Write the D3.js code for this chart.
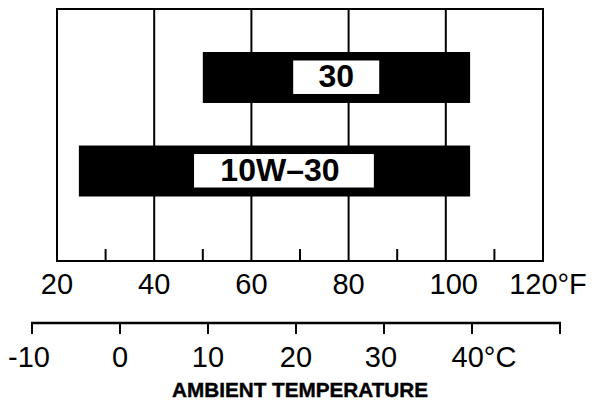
<!DOCTYPE html>
<html>
<head>
<meta charset="utf-8">
<script src="https://cdn.jsdelivr.net/npm/d3@7"></script>
<style>
  html, body { margin: 0; padding: 0; background: #fff; }
  svg { display: block; }
  text { font-family: "Liberation Sans", Arial, Helvetica, sans-serif; fill: #000; }
</style>
</head>
<body>
<svg id="chart" width="594" height="402"></svg>
<script>
// Oil grades and the ambient temperature span (°F) each one covers
const grades = ["30", "10W–30"];
const rangeLowF = [50, 24.5];
const rangeHighF = [105, 105];

// Tick values and labels for the two temperature scales
const fahrenheitMajor = [20, 40, 60, 80, 100, 120];
const fahrenheitLabels = ["20", "40", "60", "80", "100", "120°F"];
const fahrenheitMinor = [30, 50, 70, 90, 110];
const celsiusTicks = [-10, 0, 10, 20, 30, 40, 50];
const celsiusLabels = ["-10", "0", "10", "20", "30", "40°C", ""];
const axisTitle = "AMBIENT TEMPERATURE";

const svg = d3.select("#chart");

const frameTop = 9, frameBottom = 261;
const x = d3.scaleLinear().domain([20, 120]).range([57, 543]);
const y = d3.scaleBand().domain(grades).range([52, 196.5]).paddingInner(0.455);

// Vertical grid lines at the labelled Fahrenheit values inside the frame
svg.append("g")
  .selectAll("line")
  .data(fahrenheitMajor.filter(v => v > 20 && v < 120))
  .join("line")
  .attr("x1", d => x(d)).attr("x2", d => x(d))
  .attr("y1", frameTop).attr("y2", frameBottom)
  .attr("stroke", "#000").attr("stroke-width", 2);

// Short ticks rising from the bottom of the frame
svg.append("g")
  .selectAll("line")
  .data(fahrenheitMinor)
  .join("line")
  .attr("x1", d => x(d)).attr("x2", d => x(d))
  .attr("y1", frameBottom).attr("y2", frameBottom - 12)
  .attr("stroke", "#000").attr("stroke-width", 2);

// Frame
svg.append("rect")
  .attr("x", x(20)).attr("y", frameTop)
  .attr("width", x(120) - x(20)).attr("height", frameBottom - frameTop)
  .attr("fill", "none").attr("stroke", "#000").attr("stroke-width", 2);

// Bars
const bars = grades.map((g, i) => ({ grade: g, lo: rangeLowF[i], hi: rangeHighF[i] }));
svg.append("g")
  .selectAll("rect")
  .data(bars)
  .join("rect")
  .attr("x", d => x(d.lo))
  .attr("y", d => y(d.grade))
  .attr("width", d => x(d.hi) - x(d.lo))
  .attr("height", y.bandwidth())
  .attr("fill", "#000");

// White label plates inside the bars (span in °F)
const plateSpan = { "30": [68.6, 86.3], "10W–30": [48.2, 85.2] };
const plates = svg.append("g").selectAll("g").data(bars).join("g");
plates.append("rect")
  .attr("x", d => x(plateSpan[d.grade][0]))
  .attr("y", d => y(d.grade) + 8.5)
  .attr("width", d => x(plateSpan[d.grade][1]) - x(plateSpan[d.grade][0]))
  .attr("height", y.bandwidth() - 17.5)
  .attr("fill", "#fff");
plates.append("text")
  .attr("x", d => (x(plateSpan[d.grade][0]) + x(plateSpan[d.grade][1])) / 2 - (d.grade.length > 2 ? 4 : 0))
  .attr("y", d => y(d.grade) + y.bandwidth() / 2 + 10)
  .attr("text-anchor", "middle")
  .attr("font-size", 32)
  .attr("font-weight", "bold")
  .text(d => d.grade);

// Fahrenheit labels under the frame
const fOffset = { 100: 8, 120: 5 };
svg.append("g")
  .selectAll("text")
  .data(fahrenheitMajor)
  .join("text")
  .attr("x", d => x(d) + (fOffset[d] || 0))
  .attr("y", 294)
  .attr("text-anchor", "middle")
  .attr("font-size", 29)
  .text((d, i) => fahrenheitLabels[i]);

// Celsius scale
const c = d3.scaleLinear().domain([-10, 50]).range([32, 560]);
const cy = 323;
svg.append("line")
  .attr("x1", c(-10) - 1).attr("x2", c(50) + 1)
  .attr("y1", cy).attr("y2", cy)
  .attr("stroke", "#000").attr("stroke-width", 2.5);
svg.append("g")
  .selectAll("line")
  .data(celsiusTicks)
  .join("line")
  .attr("x1", d => c(d)).attr("x2", d => c(d))
  .attr("y1", cy).attr("y2", cy + 11)
  .attr("stroke", "#000").attr("stroke-width", 2);
const cOffset = { "-10": -3, 30: -3, 40: 12 };
svg.append("g")
  .selectAll("text")
  .data(celsiusTicks)
  .join("text")
  .attr("x", d => c(d) + (cOffset[d] || 0))
  .attr("y", 367)
  .attr("text-anchor", "middle")
  .attr("font-size", 29)
  .text((d, i) => celsiusLabels[i]);

// Axis title
svg.append("text")
  .attr("x", 300)
  .attr("y", 397)
  .attr("text-anchor", "middle")
  .attr("font-size", 20.5)
  .attr("font-weight", "bold")
  .attr("stroke", "#000")
  .attr("stroke-width", 0.4)
  .attr("textLength", 256)
  .attr("lengthAdjust", "spacingAndGlyphs")
  .text(axisTitle);
</script>
</body>
</html>
